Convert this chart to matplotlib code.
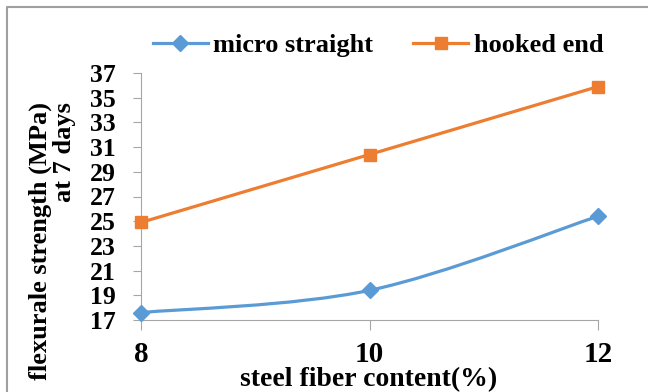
import numpy as np
import matplotlib.pyplot as plt
from matplotlib.path import Path
from matplotlib.patches import PathPatch
from matplotlib.lines import Line2D

plt.rcParams['font.family'] = 'Liberation Serif'
plt.rcParams['font.weight'] = 'bold'

fiber = [8, 10, 12]
micro_straight = [17.6, 19.4, 25.4]
hooked_end = [24.9, 30.4, 35.9]
yticks = list(range(17, 38, 2))

blue = '#5B9BD5'
orange = '#ED7D31'
gray = '#A6A6A6'


def smooth_path(x, y):
    # excel-style smoothed line: cubic bezier, catmull-rom control points
    pts = np.column_stack([x, y]).astype(float)
    ext = np.vstack([pts[0], pts, pts[-1]])
    verts = [pts[0]]
    codes = [Path.MOVETO]
    for i in range(len(pts) - 1):
        p0, p1, p2, p3 = ext[i], ext[i + 1], ext[i + 2], ext[i + 3]
        verts += [p1 + (p2 - p0) / 6, p2 - (p3 - p1) / 6, p2]
        codes += [Path.CURVE4] * 3
    return Path(verts, codes)


fig = plt.figure(figsize=(6.48, 3.92), dpi=100)
ax = fig.add_axes([141 / 648, 1 - 320 / 392, (598 - 141) / 648, (320 - 73) / 392])

for ys, col, mk, ms in [(micro_straight, blue, 'D', 8.5), (hooked_end, orange, 's', 9)]:
    ax.add_patch(PathPatch(smooth_path(fiber, ys), fill=False, edgecolor=col, lw=2.3,
                           capstyle='round', zorder=2))
    ax.plot(fiber, ys, linestyle='none', marker=mk, ms=ms, color=col, zorder=3, clip_on=False)

ax.set_xlim(8, 12)
ax.set_ylim(17, 37)
ax.set_xticks(fiber)
ax.set_yticks(yticks)
ax.tick_params(axis='y', labelsize=18.5, length=6, color=gray, pad=12)
ax.tick_params(axis='x', labelsize=21, length=7, color=gray, pad=8)
for s in ['top', 'right']:
    ax.spines[s].set_visible(False)
for s in ['left', 'bottom']:
    ax.spines[s].set_color(gray)

fig.text(369 / 648, 1 - 380 / 392, 'steel fiber content(%)', ha='center', va='center',
         fontsize=20, fontweight='bold')
fig.text(52 / 648, 1 - 241 / 392, 'flexurale strength (MPa)\nat 7 days', rotation=90,
         ha='center', va='center', multialignment='right', fontsize=19, fontweight='bold',
         linespacing=1.05)

handles = [Line2D([], [], color=blue, lw=2.3, marker='D', ms=8.5),
           Line2D([], [], color=orange, lw=2.3, marker='s', ms=9)]
fig.legend(handles, ['micro straight', 'hooked end'], loc='center', ncol=2,
           bbox_to_anchor=(378 / 648, 1 - 45 / 392), frameon=False,
           prop={'size': 19, 'weight': 'bold'}, handlelength=2.1, handletextpad=0.2,
           columnspacing=1.5)

# outer frame (top and left edges only)
fig.add_artist(Line2D([7 / 648, 7 / 648, 1], [0, 1 - 7 / 392, 1 - 7 / 392],
                      transform=fig.transFigure, color='#A0A0A0', lw=1.5))

fig.savefig('out.png', dpi=100)
